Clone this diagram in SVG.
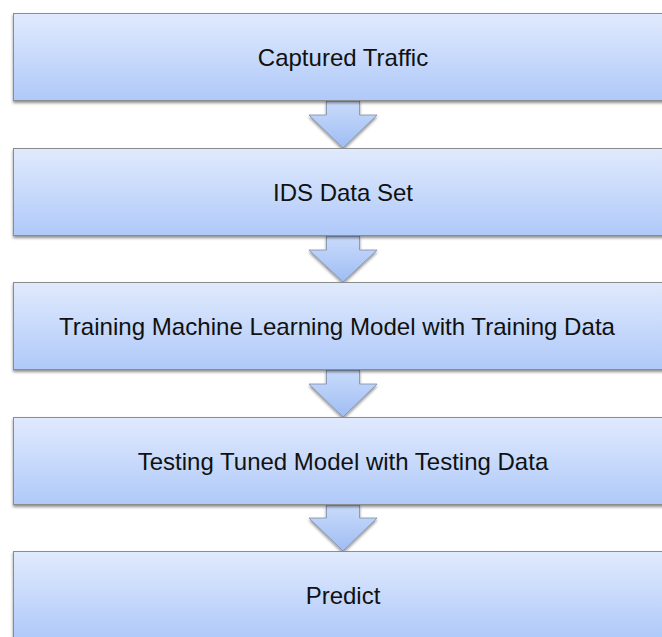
<svg xmlns="http://www.w3.org/2000/svg" width="662" height="637" viewBox="0 0 662 637">
  <defs>
    <linearGradient id="boxGrad" x1="0" y1="0" x2="0" y2="1">
      <stop offset="0" stop-color="#e1eafd"/>
      <stop offset="1" stop-color="#afc9f9"/>
    </linearGradient>
    <linearGradient id="arrowGrad" x1="0" y1="0" x2="0" y2="1">
      <stop offset="0" stop-color="#c9dbfb"/>
      <stop offset="1" stop-color="#9fbdf3"/>
    </linearGradient>
    <filter id="shadow" x="-5%" y="-10%" width="110%" height="130%">
      <feDropShadow dx="0" dy="2" stdDeviation="1.5" flood-color="#000" flood-opacity="0.45"/>
    </filter>
  </defs>
  <style>
    .box { fill: url(#boxGrad); stroke: #8c8c8c; stroke-width: 1; filter: url(#shadow); }
    .arrow { fill: url(#arrowGrad); stroke: #7f8ea8; stroke-width: 0.8; stroke-linejoin: miter; filter: url(#shadow); }
    .label { font-family: "Liberation Sans", Arial, sans-serif; font-size: 24px; fill: #111111; text-anchor: middle; }
  </style>
  <rect width="662" height="637" fill="#ffffff"/>

  <g id="connectors">
    <polygon class="arrow" points="326.5,101 359.5,101 359.5,115 377,115 343,148 309,115 326.5,115"/>
    <polygon class="arrow" points="326.5,236 359.5,236 359.5,250 377,250 343,282 309,250 326.5,250"/>
    <polygon class="arrow" points="326.5,370 359.5,370 359.5,384 377,384 343,417 309,384 326.5,384"/>
    <polygon class="arrow" points="326.5,505 359.5,505 359.5,518 377,518 343,551 309,518 326.5,518"/>
  </g>

  <g id="node-captured-traffic">
    <rect class="box" x="13.5" y="13.5" width="665" height="87"/>
    <text class="label" x="343" y="66">Captured Traffic</text>
  </g>
  <g id="node-ids-data-set">
    <rect class="box" x="13.5" y="148.5" width="665" height="87"/>
    <text class="label" x="343" y="201">IDS Data Set</text>
  </g>
  <g id="node-training">
    <rect class="box" x="13.5" y="282.5" width="665" height="87"/>
    <text class="label" x="337" y="335" textLength="556" lengthAdjust="spacingAndGlyphs">Training Machine Learning Model with Training Data</text>
  </g>
  <g id="node-testing">
    <rect class="box" x="13.5" y="417.5" width="665" height="87"/>
    <text class="label" x="343" y="470">Testing Tuned Model with Testing Data</text>
  </g>
  <g id="node-predict">
    <rect class="box" x="13.5" y="551.5" width="665" height="87"/>
    <text class="label" x="343" y="604">Predict</text>
  </g>
</svg>
